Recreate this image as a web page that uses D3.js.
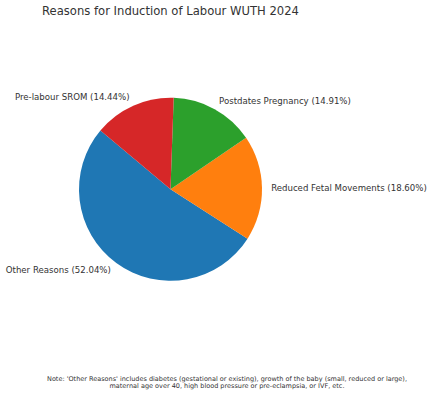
<!DOCTYPE html>
<html><head><meta charset="utf-8">
<script src="https://cdn.jsdelivr.net/npm/d3@7"></script>
<style>body{margin:0;background:#fff}svg{display:block}text{font-family:"DejaVu Sans",sans-serif;fill:#333}</style>
</head><body>
<script>
const categories = ["Other Reasons", "Reduced Fetal Movements", "Postdates Pregnancy", "Pre-labour SROM"];
const values = [52.04, 18.60, 14.91, 14.44];
const colors = ["#1f77b4", "#ff7f0e", "#2ca02c", "#d62728"];
const title = "Reasons for Induction of Labour WUTH 2024";
const noteLines = ["Note: 'Other Reasons' includes diabetes (gestational or existing), growth of the baby (small, reduced or large),",
                   "maternal age over 40, high blood pressure or pre-eclampsia, or IVF, etc."];

const W = 432, H = 393, cx = 170.5, cy = 189.3, R = 91.5;
const startDeg = 140; // matplotlib startangle, counterclockwise
const svg = d3.select("body").append("svg").attr("width", W).attr("height", H);

// d3.pie angles are clockwise from 12 o'clock; convert matplotlib ccw from 3 o'clock
const toD3 = deg => (90 - deg) * Math.PI / 180;
const pie = d3.pie().sort(null).value(d => d)
  .startAngle(toD3(startDeg)).endAngle(toD3(startDeg) - 2 * Math.PI);
const arcs = pie(values);
const arc = d3.arc().innerRadius(0).outerRadius(R);
const g = svg.append("g").attr("transform", `translate(${cx},${cy})`);
g.selectAll("path").data(arcs).join("path")
  .attr("d", arc).attr("fill", (d, i) => colors[i]);

g.selectAll("text.lbl").data(arcs).join("text").attr("class", "lbl")
  .each(function(d, i) {
    const a = (d.startAngle + d.endAngle) / 2;
    const x = Math.sin(a) * R * 1.1, y = -Math.cos(a) * R * 1.1;
    d3.select(this).attr("x", x).attr("y", y)
      .attr("text-anchor", x >= 0 ? "start" : "end")
      .attr("dominant-baseline", "central")
      .attr("font-size", 8.6)
      .text(`${categories[i]} (${values[i].toFixed(2)}%)`);
  });

svg.append("text").attr("x", cx).attr("y", 15).attr("text-anchor", "middle")
  .attr("font-size", 11.6).text(title);

svg.append("g").selectAll("text").data(noteLines).join("text")
  .attr("x", 227).attr("y", (d, i) => 380.5 + i * 7.5).attr("text-anchor", "middle")
  .attr("font-size", 6.5).text(d => d);
</script>
</body></html>
